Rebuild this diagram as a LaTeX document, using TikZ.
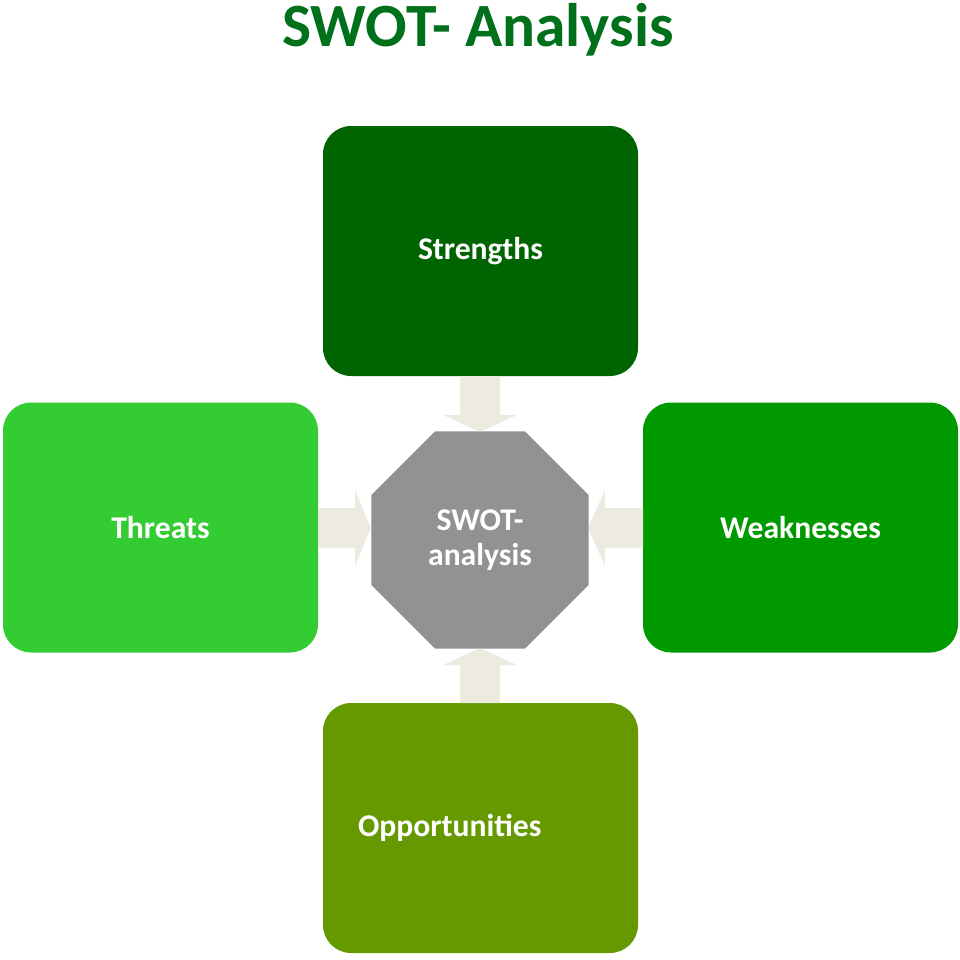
\documentclass[tikz,border=0pt]{standalone}
\usepackage{fontspec}
\setmainfont{Carlito}
\usetikzlibrary{shapes.geometric}
\definecolor{cS}{HTML}{006400}
\definecolor{cW}{HTML}{009900}
\definecolor{cT}{HTML}{33CC33}
\definecolor{cO}{HTML}{669900}
\definecolor{cC}{HTML}{929292}
\definecolor{cA}{HTML}{EDEBE0}
\definecolor{cTitle}{HTML}{00701A}
\tikzset{box/.style={rounded corners=16pt,minimum width=315*0.02cm,minimum height=250*0.02cm,text=white,font=\bfseries\fontsize{18}{20}\selectfont,inner sep=0pt},
arr/.style={fill=cA,draw=none}}
\begin{document}
\begin{tikzpicture}[x=0.02cm,y=-0.02cm]
\useasboundingbox (0,0) rectangle (960,960);
\node[font=\bfseries\fontsize{35}{40}\selectfont,text=cTitle] (title) at (478,30) {SWOT- Analysis};
\node[box,fill=cS] (s) at (480.5,251) {Strengths};
\node[box,fill=cT] (t) at (160.5,527.5) {Threats};
\node[box,fill=cW] (w) at (800.5,527.5) {Weaknesses};
\node[box,fill=cO] (o) at (480.5,828) {\hspace*{-35pt}Opportunities};
% arrows
\fill[arr] (460,376) -- (500,376) -- (500,415) -- (517,415) -- (480,432) -- (443,415) -- (460,415) -- cycle;
\fill[arr] (460,703) -- (500,703) -- (500,665) -- (517,665) -- (480,648) -- (443,665) -- (460,665) -- cycle;
\fill[arr] (318,508) -- (355,508) -- (355,490) -- (371,528) -- (355,566) -- (355,548) -- (318,548) -- cycle;
\fill[arr] (643,508) -- (605,508) -- (605,490) -- (588,528) -- (605,566) -- (605,548) -- (643,548) -- cycle;
\node[regular polygon,regular polygon sides=8,minimum size=235*0.02cm,fill=cC,inner sep=0pt,text=white,font=\bfseries\fontsize{18}{20}\selectfont,align=center] (c) at (480,540) {SWOT-\\analysis};
\end{tikzpicture}
\end{document}
